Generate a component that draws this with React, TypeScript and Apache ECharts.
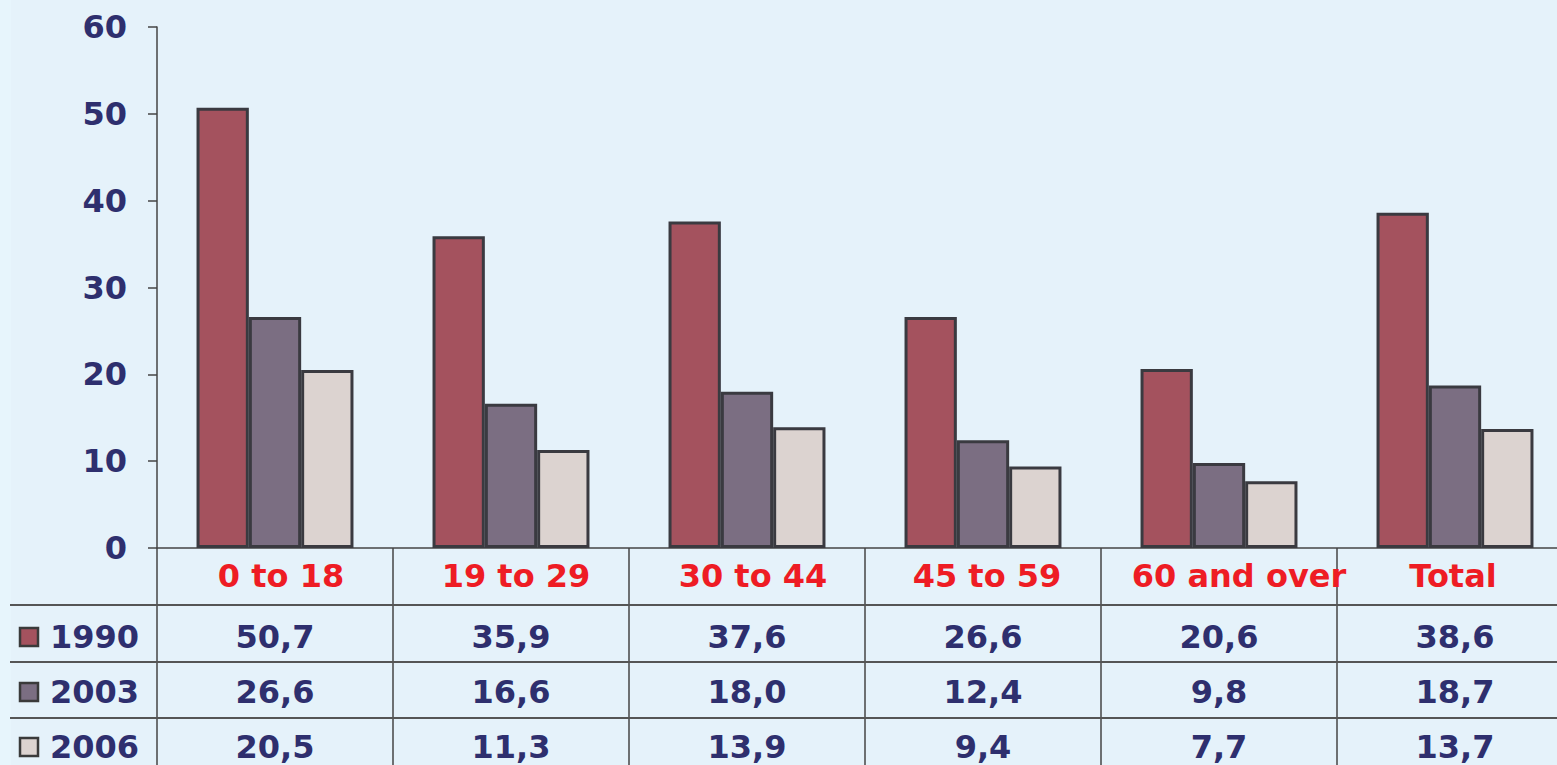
import React, { useEffect, useRef } from "react";
import * as echarts from "echarts";

const categories = ["0 to 18", "19 to 29", "30 to 44", "45 to 59", "60 and over", "Total"];
const seriesNames = ["1990", "2003", "2006"];
const values1990 = [50.7, 35.9, 37.6, 26.6, 20.6, 38.6];
const values2003 = [26.6, 16.6, 18.0, 12.4, 9.8, 18.7];
const values2006 = [20.5, 11.3, 13.9, 9.4, 7.7, 13.7];
const yTicks = [0, 10, 20, 30, 40, 50, 60];

const W = 1557;
const H = 765;
const INNER_W = 1573;
const LEFT = 157;
const TOP = 27;
const AXIS_Y = 548;
const COL_W = (INNER_W - LEFT) / categories.length;
const HEADER_Y = 576;
const ROW_Y = [637, 692, 747];
const ROW_LINES = [605, 662, 718];
const HEADER_SHIFT = [6, 5, 6, 4, 20, -2];

const NAVY = "#2E2F6E";
const RED = "#EE1C24";
const LINE = "#444444";
const BG = "#E5F2FA";
const COLORS = ["#A4525E", "#7B6E82", "#DCD3D0"];
const FONT = "DejaVu Sans";
const FS = 32;

const fmt = (v: number) => v.toFixed(1).replace(".", ",");

export default function App() {
  const ref = useRef<HTMLDivElement>(null);
  useEffect(() => {
    if (!ref.current) return;
    const chart = echarts.init(ref.current, undefined, { renderer: "svg" });
    const allValues = [values1990, values2003, values2006];

    const tableAxes = allValues.map((vals, i) => ({
      type: "category" as const,
      gridIndex: 0,
      position: "bottom" as const,
      data: vals.map(fmt),
      axisLine: { show: false },
      axisTick: { show: false },
      axisLabel: {
        interval: 0,
        margin: ROW_Y[i] - AXIS_Y,
        verticalAlign: "middle",
        color: NAVY,
        fontFamily: FONT,
        fontWeight: "bold",
        fontSize: FS,
      },
    }));

    const graphics: any[] = [
      {
        type: "rect",
        shape: { x: 0, y: 0, width: 11, height: H },
        style: { fill: "#E7F5FC" },
        silent: true,
        z: -10,
      },
    ];
    for (let i = 0; i <= categories.length; i++) {
      const x = LEFT + i * COL_W;
      graphics.push({
        type: "line",
        shape: { x1: x, y1: AXIS_Y, x2: x, y2: H },
        style: { stroke: LINE, lineWidth: 1.5 },
        silent: true,
      });
    }
    ROW_LINES.forEach((y) => {
      graphics.push({
        type: "line",
        shape: { x1: 10, y1: y, x2: INNER_W, y2: y },
        style: { stroke: "#555", lineWidth: 2 },
        silent: true,
      });
    });
    seriesNames.forEach((name, i) => {
      graphics.push({
        type: "rect",
        shape: { x: 20, y: ROW_Y[i] - 9, width: 18, height: 18 },
        style: { fill: COLORS[i], stroke: "#3a3a3a", lineWidth: 2.5 },
        silent: true,
      });
      graphics.push({
        type: "text",
        x: 50,
        y: ROW_Y[i],
        style: {
          text: name,
          fill: NAVY,
          font: `bold ${FS}px "${FONT}"`,
          textVerticalAlign: "middle",
          textAlign: "left",
        },
        silent: true,
      });
    });

    const headerData = categories.map((c, i) => {
      const s = HEADER_SHIFT[i];
      return {
        value: c,
        textStyle: { padding: s >= 0 ? [0, 0, 0, 2 * s] : [0, -2 * s, 0, 0] },
      };
    });

    chart.setOption({
      animation: false,
      backgroundColor: BG,
      grid: { left: LEFT, top: TOP, right: 0, bottom: H - AXIS_Y, containLabel: false },
      xAxis: [
        {
          type: "category",
          data: headerData,
          axisLine: { show: true, lineStyle: { color: LINE, width: 1.5 } },
          axisTick: { show: false },
          axisLabel: {
            interval: 0,
            margin: HEADER_Y - AXIS_Y - FS / 2,
            verticalAlign: "top",
            lineHeight: FS,
            color: RED,
            fontFamily: FONT,
            fontWeight: "bold",
            fontSize: FS,
          },
        },
        ...tableAxes,
      ],
      yAxis: {
        type: "value",
        min: yTicks[0],
        max: yTicks[yTicks.length - 1],
        interval: 10,
        axisLine: { show: true, lineStyle: { color: LINE, width: 1.5 } },
        axisTick: { show: true, length: 9, lineStyle: { color: LINE, width: 1.5 } },
        splitLine: { show: false },
        axisLabel: {
          margin: 30,
          color: NAVY,
          fontFamily: FONT,
          fontWeight: "bold",
          fontSize: FS,
        },
      },
      series: allValues.map((vals, i) => ({
        type: "bar",
        name: seriesNames[i],
        data: vals,
        xAxisIndex: 0,
        barGap: "0%",
        barCategoryGap: "33.5%",
        itemStyle: { color: COLORS[i], borderColor: "#3A3A40", borderWidth: 3 },
      })),
      graphic: graphics,
    });
    return () => chart.dispose();
  }, []);
  return (
    <div style={{ position: "fixed", left: 0, top: 0, width: W, height: H, overflow: "hidden" }}>
      <div ref={ref} style={{ width: INNER_W, height: H }} />
    </div>
  );
}
